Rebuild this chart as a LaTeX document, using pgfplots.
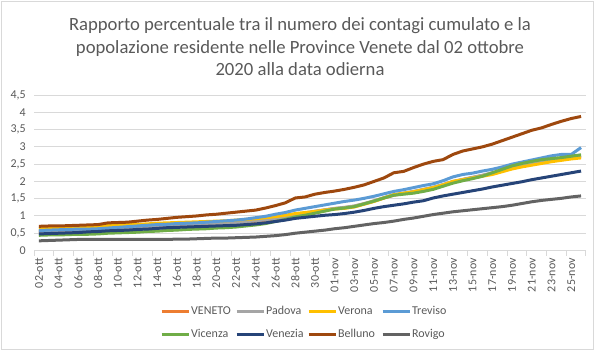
\documentclass[border=0pt]{standalone}
\usepackage{fontspec}
\setmainfont{Carlito}
\usepackage{pgfplots}
\pgfplotsset{compat=1.18}
\usepackage{pgfplotstable}
\definecolor{cVEN}{HTML}{ED7D31}
\definecolor{cPAD}{HTML}{A5A5A5}
\definecolor{cVER}{HTML}{FFC000}
\definecolor{cTRE}{HTML}{5B9BD5}
\definecolor{cVIC}{HTML}{70AD47}
\definecolor{cVEZ}{HTML}{264478}
\definecolor{cBEL}{HTML}{9E480E}
\definecolor{cROV}{HTML}{636363}
\definecolor{txt}{HTML}{595959}
\definecolor{gridc}{HTML}{D9D9D9}

\pgfplotstableread{
i VEN PAD VER TRE VIC VEZ BEL ROV
0 0.55 0.55 0.64 0.58 0.44 0.48 0.70 0.28
1 0.56 0.56 0.65 0.59 0.45 0.49 0.71 0.29
2 0.57 0.56 0.66 0.60 0.45 0.50 0.71 0.30
3 0.58 0.57 0.67 0.61 0.46 0.51 0.72 0.31
4 0.59 0.58 0.68 0.62 0.47 0.52 0.73 0.32
5 0.59 0.59 0.69 0.62 0.47 0.54 0.74 0.32
6 0.60 0.60 0.70 0.63 0.48 0.55 0.75 0.32
7 0.62 0.61 0.72 0.65 0.50 0.57 0.80 0.32
8 0.63 0.62 0.73 0.67 0.51 0.58 0.81 0.32
9 0.64 0.64 0.75 0.69 0.52 0.59 0.82 0.32
10 0.66 0.65 0.76 0.71 0.53 0.61 0.85 0.32
11 0.67 0.67 0.77 0.73 0.55 0.62 0.88 0.32
12 0.69 0.68 0.79 0.75 0.56 0.64 0.90 0.32
13 0.70 0.70 0.80 0.76 0.58 0.66 0.93 0.32
14 0.71 0.71 0.81 0.78 0.59 0.67 0.96 0.33
15 0.73 0.73 0.82 0.79 0.61 0.68 0.98 0.33
16 0.74 0.74 0.83 0.80 0.62 0.69 1.00 0.34
17 0.75 0.76 0.84 0.82 0.63 0.70 1.03 0.35
18 0.77 0.77 0.85 0.84 0.65 0.71 1.05 0.36
19 0.78 0.79 0.86 0.86 0.66 0.72 1.08 0.36
20 0.80 0.80 0.88 0.88 0.68 0.73 1.11 0.37
21 0.82 0.83 0.90 0.91 0.71 0.75 1.14 0.38
22 0.85 0.86 0.92 0.95 0.74 0.77 1.17 0.39
23 0.88 0.89 0.95 0.99 0.78 0.80 1.23 0.41
24 0.92 0.93 0.98 1.05 0.84 0.84 1.30 0.43
25 0.97 0.98 1.02 1.10 0.90 0.88 1.38 0.46
26 1.03 1.04 1.07 1.17 0.97 0.93 1.52 0.50
27 1.07 1.09 1.10 1.22 1.02 0.96 1.55 0.53
28 1.12 1.14 1.13 1.27 1.08 0.99 1.63 0.56
29 1.17 1.18 1.17 1.32 1.14 1.02 1.68 0.59
30 1.21 1.22 1.20 1.37 1.20 1.04 1.72 0.63
31 1.24 1.25 1.22 1.42 1.23 1.07 1.77 0.66
32 1.28 1.29 1.26 1.46 1.27 1.11 1.83 0.70
33 1.35 1.36 1.34 1.51 1.35 1.16 1.90 0.74
34 1.43 1.44 1.42 1.57 1.43 1.22 2.00 0.78
35 1.52 1.53 1.52 1.64 1.52 1.27 2.10 0.81
36 1.60 1.61 1.62 1.71 1.60 1.31 2.25 0.85
37 1.65 1.66 1.66 1.76 1.63 1.35 2.29 0.90
38 1.70 1.71 1.70 1.82 1.66 1.40 2.40 0.94
39 1.76 1.77 1.76 1.88 1.71 1.44 2.50 0.99
40 1.82 1.83 1.82 1.93 1.77 1.52 2.58 1.04
41 1.90 1.91 1.90 2.02 1.86 1.58 2.63 1.08
42 1.99 2.00 2.00 2.13 1.95 1.63 2.78 1.12
43 2.05 2.06 2.05 2.20 2.02 1.68 2.88 1.15
44 2.11 2.12 2.10 2.24 2.08 1.73 2.94 1.18
45 2.17 2.18 2.15 2.30 2.15 1.78 3.00 1.21
46 2.24 2.25 2.20 2.35 2.25 1.84 3.08 1.24
47 2.31 2.32 2.28 2.42 2.35 1.89 3.18 1.27
48 2.38 2.39 2.36 2.50 2.45 1.94 3.28 1.31
49 2.44 2.45 2.42 2.56 2.52 1.99 3.38 1.36
50 2.50 2.51 2.47 2.62 2.58 2.05 3.48 1.41
51 2.55 2.56 2.52 2.68 2.63 2.10 3.55 1.45
52 2.60 2.61 2.57 2.74 2.66 2.15 3.65 1.48
53 2.64 2.65 2.61 2.78 2.69 2.20 3.74 1.51
54 2.68 2.69 2.65 2.78 2.73 2.25 3.82 1.55
55 2.71 2.72 2.68 2.98 2.77 2.30 3.88 1.58
}\data

\newcommand{\lb}[2]{\makebox[#1][l]{\hspace{0.75pt}#2}}

\begin{document}
\begin{tikzpicture}
\path[use as bounding box] (-25.5pt,-75.375pt) rectangle (424.5pt,187.875pt);
\draw[gridc, line width=0.75pt] (-24.375pt,-74.25pt) rectangle (419.625pt,187.125pt);
\begin{axis}[
  at={(0pt,0pt)}, anchor=south west,
  scale only axis, width=414pt, height=116.6pt,
  xmin=-0.5, xmax=55.5, ymin=0, ymax=4.5,
  ytick={0,0.5,...,4.5},
  xtick={0,2,...,54},
  xticklabels={02-ott,04-ott,06-ott,08-ott,10-ott,12-ott,14-ott,16-ott,18-ott,20-ott,22-ott,24-ott,26-ott,28-ott,30-ott,01-nov,03-nov,05-nov,07-nov,09-nov,11-nov,13-nov,15-nov,17-nov,19-nov,21-nov,23-nov,25-nov},
  minor xtick={-0.5,1.5,...,55.5},
  major tick length=0pt, minor tick length=3.75pt,
  tick align=outside,
  axis lines*=left,
  x axis line style={gridc, line width=0.75pt},
  y axis line style={draw=none},
  minor x tick style={gridc, line width=0.75pt},
  ytick style={draw=none},
  ymajorgrids,
  grid style={gridc, line width=0.75pt},
  /pgf/number format/assume math mode=true,
  /pgf/number format/use comma,
  tick label style={font=\fontsize{9}{11}\selectfont, text=txt},
  yticklabel style={anchor=east, inner sep=0pt, xshift=-6pt},
  xticklabel style={yshift=-5.6pt, rotate=90, anchor=east, inner sep=0pt},
  every axis plot/.append style={line width=2.25pt, line join=round},
  no markers,
  legend columns=4,
  legend cell align=left,
  legend image code/.code={\draw[#1, line width=2.25pt] (0pt,0pt) -- (20.25pt,0pt);},
  legend style={at={(axis description cs:0.228,-0.351)}, anchor=north west,
    draw=none, fill=none, inner sep=0pt, font=\fontsize{9}{11}\selectfont, text=txt,
    row sep=9pt, column sep=0pt,
    nodes={inner sep=0pt, text height=6.5pt, text depth=2pt}},
]
\addplot[cVEN] table[x=i, y=VEN] {\data};
\addlegendentry{\lb{33.75pt}{VENETO}}
\addplot[cPAD] table[x=i, y=PAD] {\data};
\addlegendentry{\lb{31.5pt}{Padova}}
\addplot[cVER] table[x=i, y=VER] {\data};
\addlegendentry{\lb{33pt}{Verona}}
\addplot[cTRE] table[x=i, y=TRE] {\data};
\addlegendentry{\lb{30pt}{Treviso}}
\addplot[cVIC] table[x=i, y=VIC] {\data};
\addlegendentry{\lb{33.75pt}{Vicenza}}
\addplot[cVEZ] table[x=i, y=VEZ] {\data};
\addlegendentry{\lb{31.5pt}{Venezia}}
\addplot[cBEL] table[x=i, y=BEL] {\data};
\addlegendentry{\lb{33pt}{Belluno}}
\addplot[cROV] table[x=i, y=ROV] {\data};
\addlegendentry{\lb{30pt}{Rovigo}}
\end{axis}
\begin{scope}[every node/.style={anchor=base, text=txt, inner sep=0pt, font=\fontsize{14}{17}\selectfont}]
\node at (199.5pt,165.375pt) {Rapporto percentuale tra il numero dei contagi cumulato e la};
\node at (199.5pt,148.125pt) {popolazione residente nelle Province Venete dal 02 ottobre};
\node at (199.5pt,131.625pt) {2020 alla data odierna};
\end{scope}
\end{tikzpicture}
\end{document}
